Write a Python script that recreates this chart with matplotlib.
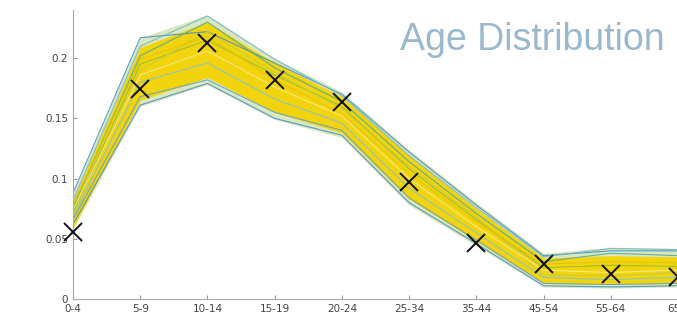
import matplotlib
matplotlib.use('Agg')
import matplotlib.pyplot as plt

ages = ['0-4', '5-9', '10-14', '15-19', '20-24', '25-34', '35-44', '45-54', '55-64', '65+']
observed = [0.056, 0.174, 0.2125, 0.182, 0.1635, 0.097, 0.0465, 0.029, 0.0207, 0.018]

# envelope of the simulated runs
outer_hi = [0.088, 0.217, 0.236, 0.200, 0.172, 0.124, 0.080, 0.038, 0.043, 0.042]
outer_lo = [0.058, 0.160, 0.178, 0.149, 0.134, 0.078, 0.044, 0.010, 0.009, 0.010]
core_hi = [0.082, 0.209, 0.230, 0.196, 0.168, 0.119, 0.075, 0.034, 0.036, 0.035]
core_lo = [0.059, 0.165, 0.184, 0.155, 0.138, 0.083, 0.048, 0.013, 0.012, 0.013]

# a few individual runs that stand out
runs = [
    [0.088, 0.217, 0.222, 0.196, 0.170, 0.122, 0.078, 0.036, 0.040, 0.040],
    [0.062, 0.161, 0.179, 0.150, 0.136, 0.080, 0.046, 0.011, 0.010, 0.011],
    [0.082, 0.210, 0.235, 0.199, 0.169, 0.119, 0.076, 0.035, 0.042, 0.041],
    [0.066, 0.168, 0.182, 0.155, 0.140, 0.084, 0.049, 0.013, 0.012, 0.013],
    [0.072, 0.195, 0.215, 0.186, 0.160, 0.108, 0.066, 0.026, 0.028, 0.027],
    [0.076, 0.202, 0.230, 0.192, 0.164, 0.114, 0.071, 0.031, 0.038, 0.036],
    [0.068, 0.180, 0.196, 0.166, 0.146, 0.092, 0.055, 0.018, 0.016, 0.018],
    [0.070, 0.190, 0.222, 0.188, 0.158, 0.110, 0.068, 0.020, 0.019, 0.022],
    [0.074, 0.186, 0.206, 0.176, 0.152, 0.100, 0.060, 0.024, 0.022, 0.024],
    [0.078, 0.199, 0.218, 0.182, 0.154, 0.104, 0.064, 0.029, 0.031, 0.030],
]
run_colors = ['#3b8cc8', '#3b8cc8', '#6fb7c8', '#5aa0d0', '#8cbc3a',
              '#4aa8a0', '#7fc0e0', '#c8c840', '#f8ec90', '#e6c200']

fig = plt.figure(figsize=(6.77, 3.27), dpi=100)
ax = fig.add_axes([73 / 677, 28 / 327, 605 / 677, 289 / 327])

x = list(range(len(ages)))
ax.fill_between(x, outer_lo, outer_hi, color='#cfe0a8', alpha=0.75, lw=0)
ax.fill_between(x, core_lo, core_hi, color='#f2d40c', lw=0)
for r, c in zip(runs, run_colors):
    ax.plot(x, r, color=c, lw=0.8, alpha=0.85)
ax.plot(x, observed, 'x', color='#111111', ms=13, mew=1.4, clip_on=False, zorder=5)

ax.set_xlim(0, 9)
ax.set_ylim(0, 0.24)
ax.set_xticks(x)
ax.set_xticklabels(ages)
ax.set_yticks([0, 0.05, 0.1, 0.15, 0.2])
ax.set_yticklabels(['0', '0.05', '0.1', '0.15', '0.2'])
ax.tick_params(direction='in', length=3, labelsize=7.5, colors='#999999', labelcolor='#444444')
for s in ['top', 'right']:
    ax.spines[s].set_visible(False)
for s in ['left', 'bottom']:
    ax.spines[s].set_color('#aaaaaa')

fig.text(665 / 677, 1 - 40 / 327, 'Age Distribution', ha='right', va='center',
         fontsize=27, color='#9bb8cc', family='Liberation Sans')

fig.savefig('out.png', dpi=100)
